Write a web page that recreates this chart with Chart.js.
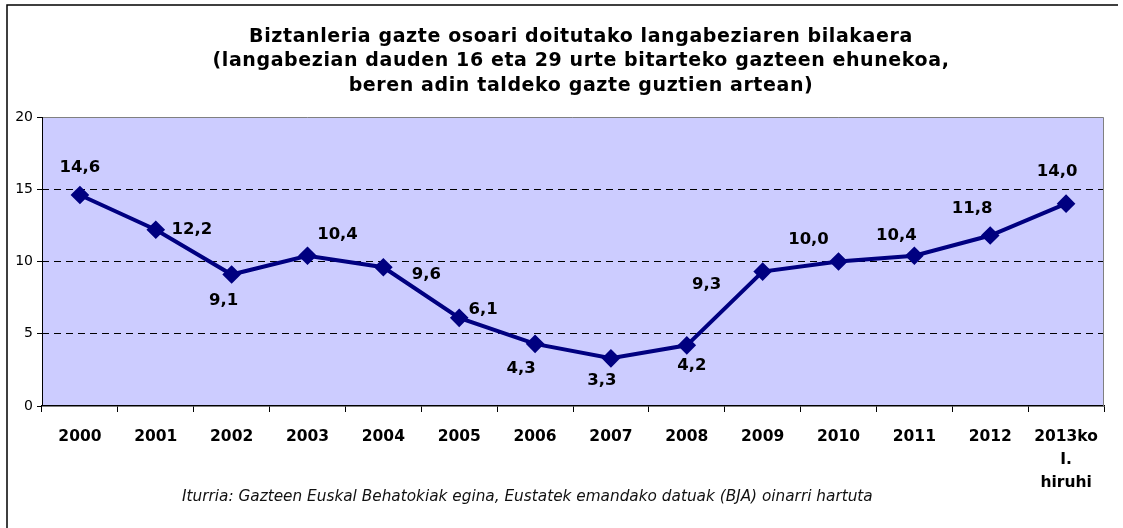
<!DOCTYPE html>
<html>
<head>
<meta charset="utf-8">
<title>Biztanleria gazte osoari doitutako langabeziaren bilakaera</title>
<script src="https://cdn.jsdelivr.net/npm/chart.js@4/dist/chart.umd.min.js"></script>
<style>
  html, body { margin: 0; padding: 0; background: #fff; }
  #wrap { width: 1123px; height: 528px; position: relative; }
</style>
</head>
<body>
<div id="wrap"><canvas id="chart"></canvas></div>
<script>
// Gazteen langabezia tasa (%), 2000 - 2013ko I. hiruhilekoa

const years = ['2000', '2001', '2002', '2003', '2004', '2005', '2006', '2007',
  '2008', '2009', '2010', '2011', '2012', ['2013ko', 'I.', 'hiruhi']];
const rates = [14.6, 12.2, 9.1, 10.4, 9.6, 6.1, 4.3, 3.3, 4.2, 9.3, 10.0, 10.4, 11.8, 14.0];
const yTicks = [0, 5, 10, 15, 20];

const titleLines = [
  'Biztanleria gazte osoari doitutako langabeziaren bilakaera',
  '(langabezian dauden 16 eta 29 urte bitarteko gazteen ehunekoa,',
  'beren adin taldeko gazte guztien artean)',
];
const sourceNote = 'Iturria: Gazteen Euskal Behatokiak egina, Eustatek emandako datuak (BJA) oinarri hartuta';

// label placement next to each point (dx, dy in px), as in the original sheet
const labelShift = [
  [0, -27], [36, 0], [-8, 26], [30, -21], [43, 7], [24, -8], [-14, 25],
  [-9, 22], [5, 20], [-56, 13], [-30, -22], [-18, -20], [-18, -27], [-9, -32],
];

const fmt = v => v.toFixed(1).replace('.', ',');

// plot background, frame, outer box, title, data labels and the source line
const sheetDecor = {
  id: 'sheetDecor',
  beforeDraw(chart) {
    const { ctx, chartArea: a } = chart;
    ctx.save();
    ctx.fillStyle = '#ccccff';
    ctx.fillRect(a.left, a.top, a.right - a.left, a.bottom - a.top);
    // outer box (left + top visible)
    ctx.strokeStyle = '#000';
    ctx.lineWidth = 1.5;
    ctx.beginPath();
    ctx.moveTo(7, 528); ctx.lineTo(7, 5); ctx.lineTo(1118, 5);
    ctx.stroke();
    ctx.restore();
  },
  beforeDatasetsDraw(chart) {
    const { ctx, chartArea: a } = chart;
    ctx.save();
    ctx.lineWidth = 1;
    ctx.strokeStyle = '#808080';
    ctx.beginPath();
    ctx.moveTo(a.left, a.top + 0.5); ctx.lineTo(a.right - 0.5, a.top + 0.5); ctx.lineTo(a.right - 0.5, a.bottom);
    ctx.stroke();
    ctx.strokeStyle = '#000';
    ctx.beginPath();
    ctx.moveTo(a.left + 0.5, a.top); ctx.lineTo(a.left + 0.5, a.bottom);
    ctx.stroke();
    ctx.restore();
  },
  afterDraw(chart) {
    const { ctx, chartArea: a } = chart;
    const pts = chart.getDatasetMeta(0).data;
    ctx.save();
    ctx.fillStyle = '#000';
    ctx.textAlign = 'center';
    ctx.textBaseline = 'middle';

    // title, centred on the sheet's outer box
    ctx.font = 'bold 19px "DejaVu Sans", Tahoma, sans-serif';
    ctx.letterSpacing = '0.6px';
    titleLines.forEach((t, i) => ctx.fillText(t, 581, 37 + i * 24.5));
    ctx.letterSpacing = '0px';

    ctx.font = 'bold 16.5px "DejaVu Sans", Verdana, sans-serif';
    pts.forEach((p, i) => {
      const [dx, dy] = labelShift[i];
      ctx.fillText(fmt(rates[i]), p.x + dx, p.y + dy);
    });

    ctx.font = 'italic 15.3px "DejaVu Sans", Verdana, sans-serif';
    ctx.fillStyle = '#111';
    ctx.textAlign = 'left';
    ctx.fillText(sourceNote, a.left + 140, 497);
    ctx.restore();
  },
};

new Chart(document.getElementById('chart'), {
  type: 'line',
  data: {
    labels: years,
    datasets: [{
      data: rates,
      borderColor: '#000080',
      backgroundColor: '#000080',
      borderWidth: 4,
      pointStyle: 'rectRot',
      pointRadius: 6.5,
      pointHoverRadius: 6.5,
      pointBackgroundColor: '#000080',
      pointBorderColor: '#000080',
      tension: 0,
    }],
  },
  options: {
    animation: false, responsive: true, maintainAspectRatio: false,
    layout: { padding: { left: 8, right: 19, top: 117, bottom: 0 } },
    plugins: {
      legend: { display: false },
      tooltip: { enabled: false },
      title: { display: false },
    },
    scales: {
      x: {
        offset: true,
        grid: { offset: true, drawOnChartArea: false, drawTicks: true, tickLength: 6, tickColor: '#000', tickWidth: 1 },
        border: { display: true, color: '#000', width: 1.5 },
        ticks: {
          color: '#000', padding: 13, maxRotation: 0, autoSkip: false,
          font: { family: '"DejaVu Sans", Verdana, sans-serif', size: 15.5, weight: 'bold', lineHeight: 1.5 },
        },
        afterFit: s => { s.height = 122; },
      },
      y: {
        min: 0, max: 20,
        afterBuildTicks: s => { s.ticks = yTicks.map(v => ({ value: v })); },
        grid: {
          color: c => (c.tick.value > 0 && c.tick.value < 20 ? '#000' : 'rgba(0,0,0,0)'),
          lineWidth: 1,
          drawTicks: true, tickLength: 5, tickColor: '#000', tickWidth: 1, tickBorderDash: [],
        },
        border: { display: false, dash: [7, 5] },
        ticks: {
          color: '#000', padding: 4,
          font: { family: '"DejaVu Sans", Verdana, sans-serif', size: 14 },
        },
        afterFit: s => { s.width = 34; },
      },
    },
  },
  plugins: [sheetDecor],
});
</script>
</body>
</html>
